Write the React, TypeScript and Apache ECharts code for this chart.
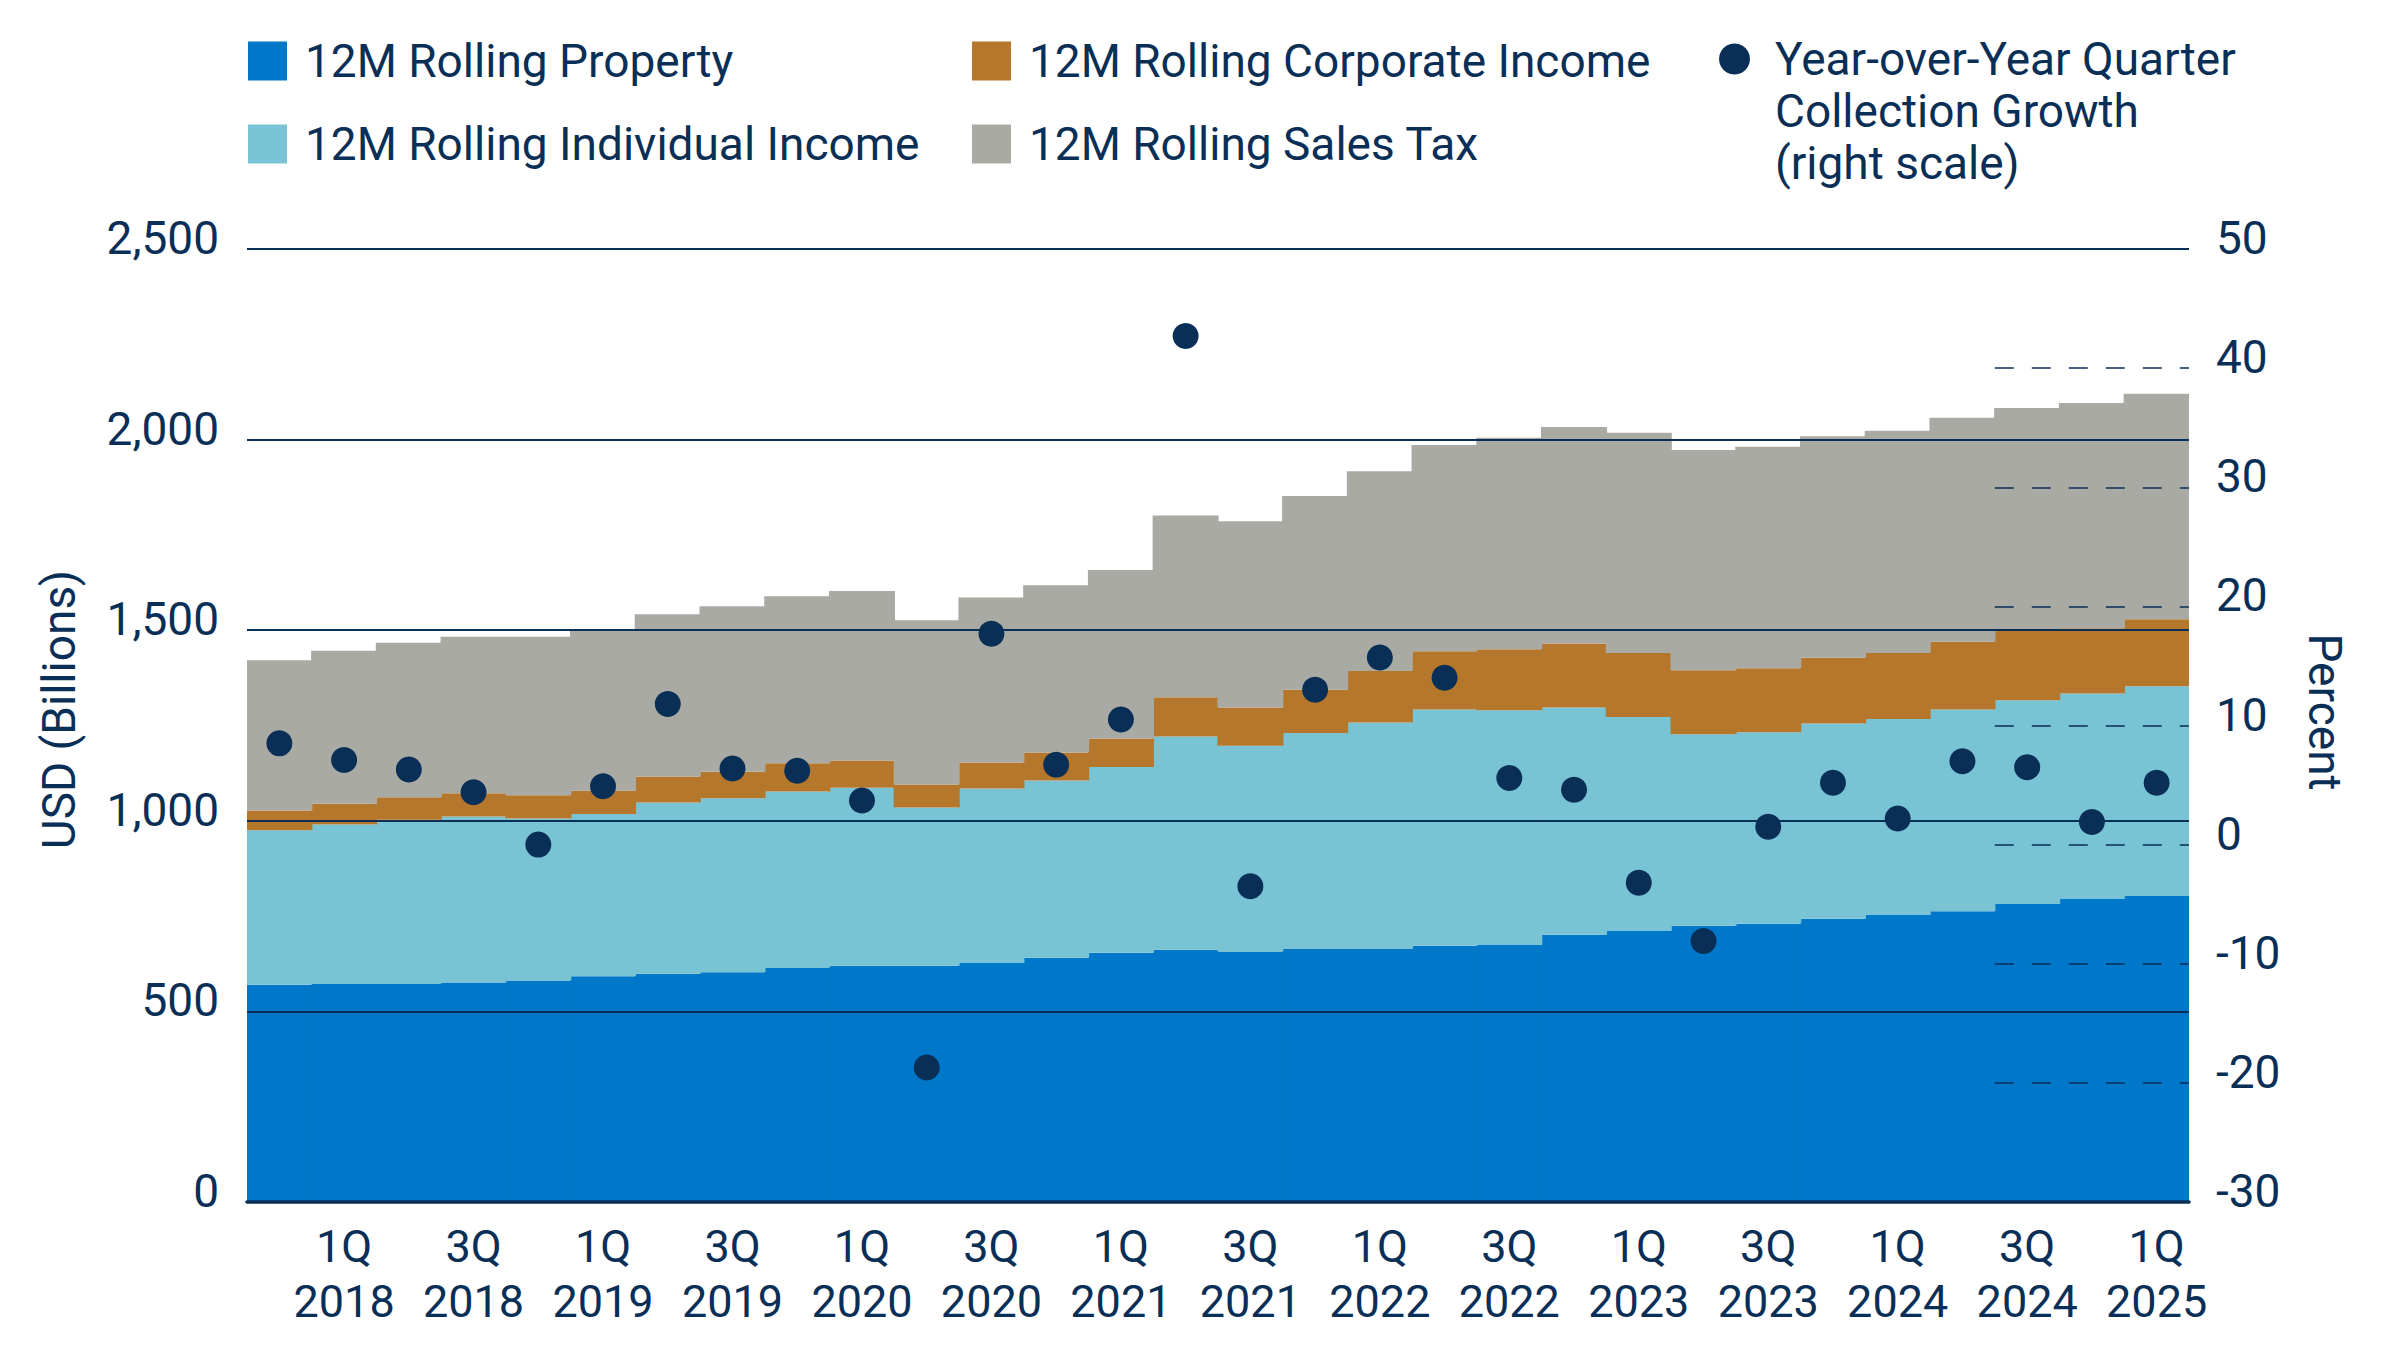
// State & local tax collections: stacked 12M rolling components + YoY growth dots
import { useRef, useEffect } from "react";
import * as echarts from "echarts";

const NAVY = "#0A2F57";
const FONT = "Roboto";

const categories = [
  "4Q 2017",
  "1Q 2018", "2Q 2018", "3Q 2018", "4Q 2018",
  "1Q 2019", "2Q 2019", "3Q 2019", "4Q 2019",
  "1Q 2020", "2Q 2020", "3Q 2020", "4Q 2020",
  "1Q 2021", "2Q 2021", "3Q 2021", "4Q 2021",
  "1Q 2022", "2Q 2022", "3Q 2022", "4Q 2022",
  "1Q 2023", "2Q 2023", "3Q 2023", "4Q 2023",
  "1Q 2024", "2Q 2024", "3Q 2024", "4Q 2024",
  "1Q 2025",
];

// USD billions, each layer's own size (stacked)
const property = [
  570, 573, 573, 576, 581, 592, 599, 603, 615, 620,
  620, 627, 641, 654, 662, 657, 664, 664, 672, 674,
  701, 711, 725, 730, 743, 753, 763, 782, 795, 804,
];
const individualIncome = [
  405, 417, 430, 435, 425, 426, 449, 456, 462, 467,
  415, 458, 465, 487, 559, 540, 566, 594, 620, 616,
  596, 561, 502, 502, 512, 514, 529, 534, 539, 549,
];
const corporateIncome = [
  52, 55, 59, 61, 61, 61, 68, 70, 74, 71,
  60, 68, 73, 75, 103, 100, 114, 135, 153, 160,
  168, 168, 168, 168, 173, 173, 178, 182, 171, 176,
];
const salesTax = [
  394, 401, 405, 411, 416, 419, 426, 434, 438, 445,
  431, 433, 439, 442, 477, 489, 508, 524, 541, 555,
  568, 578, 578, 581, 581, 583, 587, 585, 591, 591,
];
// percent, right scale
const yoyGrowth = [
  8.5, 7.1, 6.3, 4.4, 0.0, 4.9, 11.8, 6.4, 6.2, 3.7,
  -18.7, 17.7, 6.7, 10.5, 42.7, -3.5, 13.0, 15.7, 14.0, 5.6,
  4.6, -3.2, -8.1, 1.5, 5.2, 2.2, 7.0, 6.5, 1.9, 5.2,
];

// dashed right-scale guides drawn over the last categories
const dashLevels = [40, 30, 20, 10, 0, -10, -20];
const dashFromCategory = 27;

const seriesNames = [
  "12M Rolling Property",
  "12M Rolling Individual Income",
  "12M Rolling Corporate Income",
  "12M Rolling Sales Tax",
  "Year-over-Year Quarter Collection Growth (right scale)",
];
const colors = ["#0077C8", "#78C3D4", "#B5772B", "#AAAAA4"];

const App = () => {
  const chartRef = useRef<HTMLDivElement>(null);

  useEffect(() => {
    document.body.style.margin = "0";
    const myChart = echarts.init(chartRef.current, null, { renderer: "svg" });

    const legendText = {
      fontFamily: FONT,
      fontSize: 46,
      lineHeight: 52,
      color: NAVY,
      padding: [0, 0, 0, 13],
    };
    const barLegend = (i: number, left: number, top: number) => ({
      data: [seriesNames[i]],
      left,
      top,
      icon: "rect",
      itemWidth: 39,
      itemHeight: 39,
      selectedMode: false,
      textStyle: legendText,
    });

    const layers = [property, individualIncome, corporateIncome, salesTax];

    const option = {
      animation: false,
      textStyle: { fontFamily: FONT },
      legend: [
        barLegend(0, 243, 30),
        barLegend(1, 243, 113),
        barLegend(2, 967, 30),
        barLegend(3, 967, 113),
        {
          data: [seriesNames[4]],
          left: 1714,
          top: -76,
          icon: "circle",
          itemWidth: 31,
          itemHeight: 31,
          selectedMode: false,
          formatter: () =>
            "{t|Year-over-Year Quarter}\n{t|Collection Growth}\n{t|(right scale)}",
          textStyle: {
            ...legendText,
            padding: [104, 0, 0, 20],
            rich: {
              t: { fontFamily: FONT, fontSize: 46, lineHeight: 52, color: NAVY },
            },
          },
        },
      ],
      grid: { left: 247, right: 207, top: 249, bottom: 152 },
      xAxis: [
        {
          type: "category",
          data: categories,
          boundaryGap: true,
          z: 10,
          axisLine: { lineStyle: { color: NAVY, width: 3.5 } },
          axisTick: {
            alignWithLabel: true,
            interval: 0,
            length: 13,
            lineStyle: { color: NAVY, width: 3 },
          },
          axisLabel: {
            interval: (index: number) => index % 2 === 1,
            formatter: (v: string) => v.replace(" ", "\n"),
            fontFamily: FONT,
            fontSize: 45,
            lineHeight: 55,
            color: NAVY,
            margin: 17,
          },
          splitLine: { show: false },
        },
        {
          type: "value",
          min: 0,
          max: categories.length,
          show: false,
        },
      ],
      yAxis: [
        {
          type: "value",
          min: 0,
          max: 2500,
          interval: 500,
          position: "left",
          z: 10,
          axisLine: { show: false },
          axisTick: { show: false },
          splitLine: { lineStyle: { color: NAVY, width: 2 } },
          axisLabel: {
            formatter: (v: number) => v.toLocaleString("en-US"),
            fontFamily: FONT,
            fontSize: 46,
            color: NAVY,
            margin: 28,
            verticalAlign: "bottom",
            lineHeight: 22,
          },
          name: "USD (Billions)",
          nameLocation: "middle",
          nameRotate: 90,
          nameGap: 165,
          nameTextStyle: {
            fontFamily: FONT,
            fontSize: 46,
            color: NAVY,
            padding: [0, 0, 0, 32],
          },
        },
        {
          type: "value",
          min: -30,
          max: 50,
          interval: 10,
          position: "right",
          axisLine: { show: false },
          axisTick: { show: false },
          splitLine: { show: false },
          axisLabel: {
            fontFamily: FONT,
            fontSize: 46,
            color: NAVY,
            margin: 27,
            verticalAlign: "bottom",
            lineHeight: 22,
          },
          name: "Percent",
          nameLocation: "middle",
          nameRotate: -90,
          nameGap: 113,
          nameTextStyle: {
            fontFamily: FONT,
            fontSize: 46,
            color: NAVY,
            padding: [0, 27, 0, 0],
          },
        },
      ],
      series: [
        // bars slightly wider than the band so neighbours overlap and no seams show
        ...layers.map((d, i) => ({
          name: seriesNames[i],
          type: "bar",
          stack: "total",
          barWidth: "102%",
          barGap: "0%",
          data: d,
          itemStyle: { color: colors[i] },
        })),
        {
          name: seriesNames[4],
          type: "scatter",
          yAxisIndex: 1,
          data: yoyGrowth,
          symbolSize: 26,
          z: 20,
          itemStyle: { color: NAVY, opacity: 1 },
        },
        {
          type: "line",
          xAxisIndex: 1,
          yAxisIndex: 1,
          data: [],
          z: 15,
          markLine: {
            silent: true,
            symbol: ["none", "none"],
            label: { show: false },
            lineStyle: { color: NAVY, width: 1.6, type: [19, 18] },
            data: dashLevels.map((v) => [
              { coord: [dashFromCategory, v] },
              { coord: [categories.length, v] },
            ]),
          },
        },
      ],
    };

    myChart.setOption(option);

    return () => {
      myChart.dispose();
    };
  }, []);

  return <div ref={chartRef} style={{ width: "2396px", height: "1354px" }}></div>;
};

export default App;
